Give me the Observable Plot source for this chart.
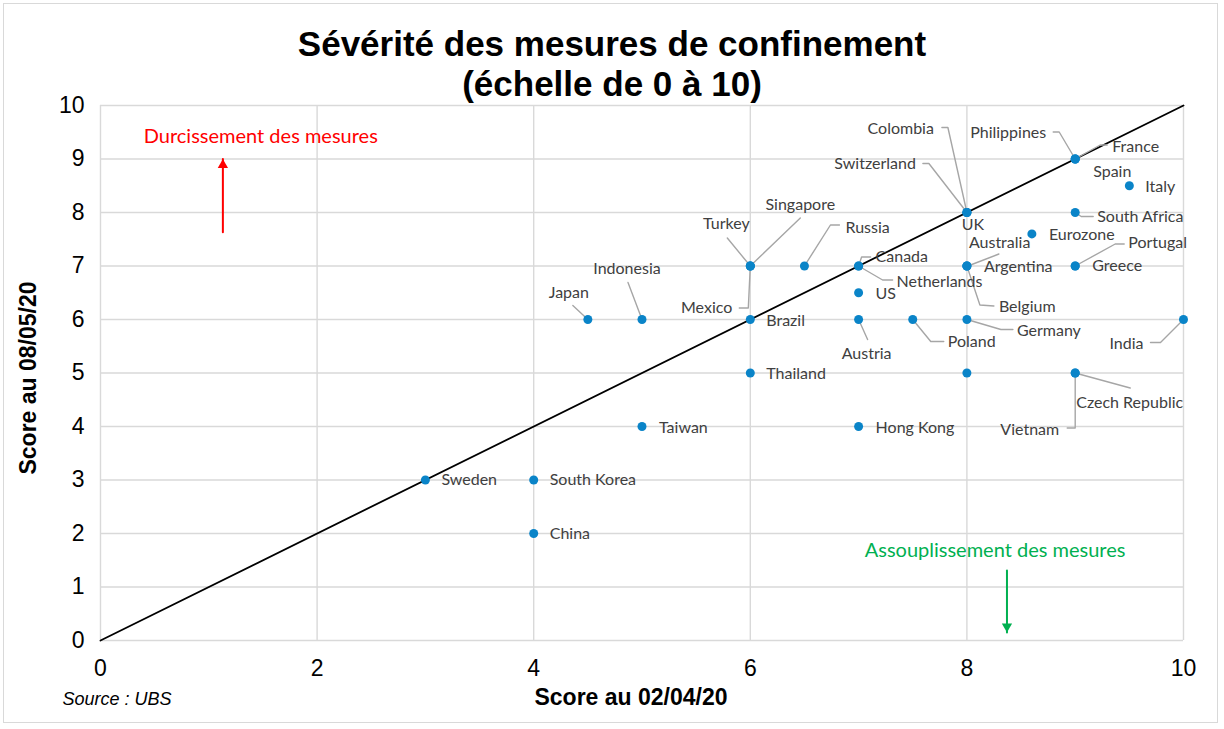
<!DOCTYPE html>
<html>
<head>
<meta charset="utf-8">
<script src="https://cdn.jsdelivr.net/npm/d3@7"></script>
<script src="https://cdn.jsdelivr.net/npm/@observablehq/plot@0.6"></script>
<style>
  body { margin: 0; background: #fff; }
  #wrap { position: relative; width: 1224px; height: 729px; overflow: hidden; background: #fff; }
  #frame { position: absolute; left: 3px; top: 3px; width: 1213px; height: 718px; border: 1.5px solid #d9d9d9; pointer-events: none; z-index: 3; }
  #title { position: relative; z-index: 2; height: 95px; box-sizing: border-box; padding-top: 24px; text-align: center;
           font-family: "Liberation Sans", Arial, sans-serif; font-weight: bold; font-size: 35px; line-height: 40px; color: #000; }
  #chart { position: relative; z-index: 1; }
  #chart svg { overflow: visible; }
</style>
</head>
<body>
<div id="wrap">
  <div id="frame"></div>
  <div id="title">Sévérité des mesures de confinement<br>(échelle de 0 à 10)</div>
  <div id="chart"></div>
</div>
<script>
// ---- Data ----
const countries = ["Sweden","South Korea","China","Taiwan","Japan","Indonesia","Brazil","Thailand","Turkey","Singapore","Mexico","Russia","Canada","Netherlands","US","Austria","Hong Kong","Poland","Germany","","Australia","Argentina","Belgium","UK","Colombia","Switzerland","Eurozone","Philippines","France","Spain","Italy","South Africa","Portugal","Greece","Czech Republic","Vietnam","India"];
const score0204 = [3,4,4,5,4.5,5,6,6,6,6,6,6.5,7,7,7,7,7,7.5,8,8,8,8,8,8,8,8,8.6,9,9,9,9.5,9,9,9,9,9,10];
const score0805 = [3,3,2,4,6,6,6,5,7,7,7,7,7,7,6.5,6,4,6,6,5,7,7,7,8,8,8,7.6,9,9,9,8.5,8,7,7,5,5,6];
const xTicks = [0,2,4,6,8,10];
const yTicks = [0,1,2,3,4,5,6,7,8,9,10];
const diagonal = [0,10]; // reference line y = x

// ---- Annotations (arrows + captions), in data units ----
const annotations = [
  {text: "Durcissement des mesures", color: "#ff0000", ax: 1.13, from: 7.63, to: 9.0, tx: 1.48, ty: 9.42, dir: "up"},
  {text: "Assouplissement des mesures", color: "#00b050", ax: 8.37, from: 1.31, to: 0.15, tx: 8.26, ty: 1.68, dir: "down"}
];

// ---- Label layout: [dx px, dy px, anchor, leader polyline in px offsets from the point] ----
const labelLayout = {
  "Sweden": [16,0,"start"],
  "South Korea": [16,0,"start"],
  "China": [16,0,"start"],
  "Taiwan": [17,1,"start"],
  "Hong Kong": [17,1,"start"],
  "Thailand": [16,1,"start"],
  "Brazil": [16,1,"start"],
  "Japan": [-19,-27,"middle",[[-15,-14],[0,0]]],
  "Indonesia": [-15,-51,"middle",[[-14,-37],[0,0]]],
  "Mexico": [-18,42,"end",[[-11,42],[-2,42],[0,0]]],
  "Turkey": [-24,-42,"middle",[[-23,-28],[0,0]]],
  "Singapore": [50,-61,"middle",[[50,-48],[0,0]]],
  "Russia": [41,-38,"start",[[35,-41],[26,-41],[0,0]]],
  "Canada": [17,-9,"start",[[0,0],[3,-9],[12,-9]]],
  "Netherlands": [38,16,"start",[[0,0],[24,14],[34,14]]],
  "US": [17,1,"start"],
  "Austria": [8,34,"middle",[[0,0],[9,20]]],
  "Poland": [35,22,"start",[[0,0],[18,22],[31,22]]],
  "Germany": [50,11,"start",[[0,0],[34,10],[46,10]]],
  "Belgium": [32,41,"start",[[0,0],[13,39],[27,40]]],
  "Argentina": [17,1,"start"],
  "Australia": [2,-23,"start",[[32,-12],[1,0]]],
  "UK": [6,12,"middle"],
  "Colombia": [-33,-84,"end",[[-25,-85],[-19,-85],[0,0]]],
  "Switzerland": [-51,-49,"end",[[-44,-49],[-38,-49],[0,0]]],
  "Eurozone": [17,1,"start"],
  "Philippines": [-29,-26,"end",[[-22,-27],[-16,-27],[0,0]]],
  "France": [37,-12,"start",[[32,-14],[25,-14],[0,0]]],
  "Spain": [18,13,"start"],
  "Italy": [16,1,"start"],
  "South Africa": [22,4,"start",[[0,0],[6,4],[18,4]]],
  "Portugal": [53,-23,"start",[[0,0],[40,-22],[49,-22]]],
  "Greece": [17,0,"start"],
  "Czech Republic": [1,30,"start",[[0,0],[55,15]]],
  "Vietnam": [-16,57,"end",[[0,0],[0,55],[-8,55]]],
  "India": [-40,24,"end",[[-33,23],[-23,23],[0,0]]]
};

// ---- Geometry ----
const W = 1224, H = 634;
const mL = 100, mR = 41, mT = 10, mB = 89;
const kx = 10 / (W - mL - mR);   // data units per px
const ky = 10 / (H - mT - mB);

const points = countries.map((c, i) => ({name: c, x: score0204[i], y: score0805[i]}));

const labels = [];
const leaders = [];
points.forEach(p => {
  const L = labelLayout[p.name];
  if (!L) return;
  const [dx, dy, anchor, leader] = L;
  labels.push({name: p.name, anchor, x: p.x + dx * kx, y: p.y - dy * ky});
  if (leader) leader.forEach(([ox, oy]) => leaders.push({name: p.name, x: p.x + ox * kx, y: p.y - oy * ky}));
});

const labelFont = "Lato, 'Open Sans', sans-serif";
const labelStyle = {fontFamily: labelFont, fontSize: 16, fill: "#404040"};

const arrowLines = annotations.flatMap(a => [{t: a.text, x: a.ax, y: a.from, c: a.color}, {t: a.text, x: a.ax, y: a.to, c: a.color}]);

const chart = Plot.plot({
  width: W, height: H,
  marginLeft: mL, marginRight: mR, marginTop: mT, marginBottom: mB,
  x: {domain: [0, 10], label: null},
  y: {domain: [0, 10], label: null},
  style: {background: "transparent", overflow: "visible", fontFamily: "'Liberation Sans', Arial, sans-serif", color: "#000"},
  marks: [
    Plot.gridX(xTicks, {stroke: "#d9d9d9", strokeOpacity: 1, strokeWidth: 1.4}),
    Plot.gridY(yTicks, {stroke: "#d9d9d9", strokeOpacity: 1, strokeWidth: 1.4}),
    Plot.axisX({ticks: xTicks, tickSize: 0, tickPadding: 19, fontSize: 23, label: null}),
    Plot.axisY({ticks: yTicks, tickSize: 0, tickPadding: 16, fontSize: 23, label: null}),
    Plot.line(diagonal, {x: d => d, y: d => d, stroke: "#000", strokeWidth: 1.8}),
    Plot.line(leaders, {x: "x", y: "y", z: "name", stroke: "#a6a6a6", strokeWidth: 1.4}),
    Plot.dot(points, {x: "x", y: "y", r: 4.5, fill: "#0a84c8", stroke: "none"}),
    ...["start", "middle", "end"].map(a => Plot.text(labels.filter(l => l.anchor === a), {x: "x", y: "y", text: "name", textAnchor: a, ...labelStyle})),
    // arrows
    Plot.line(arrowLines, {x: "x", y: "y", z: "t", stroke: "c", strokeWidth: 2}),
    Plot.dot(annotations.filter(a => a.dir === "up"), {x: "ax", y: "to", symbol: "triangle", r: 3.8, fill: "color", dy: 6}),
    Plot.dot(annotations.filter(a => a.dir === "down"), {x: "ax", y: "to", symbol: "triangle", r: 3.8, fill: "color", rotate: 180, dy: -6}),
    Plot.text(annotations, {x: "tx", y: "ty", text: "text", fill: "color", fontFamily: labelFont, fontSize: 20}),
    // axis titles & source
    Plot.text(["Score au 02/04/20"], {frameAnchor: "bottom", lineAnchor: "middle", textAnchor: "middle", dx: -11, dy: 57, fontWeight: "bold", fontSize: 23}),
    Plot.text(["Score au 08/05/20"], {frameAnchor: "left", lineAnchor: "middle", textAnchor: "middle", rotate: -90, dx: -72, dy: 5, fontWeight: "bold", fontSize: 23}),
    Plot.text(["Source : UBS"], {frameAnchor: "bottom-left", lineAnchor: "middle", textAnchor: "start", dx: -38, dy: 59, fontStyle: "italic", fontSize: 18})
  ]
});
document.getElementById("chart").appendChild(chart);
</script>
</body>
</html>
